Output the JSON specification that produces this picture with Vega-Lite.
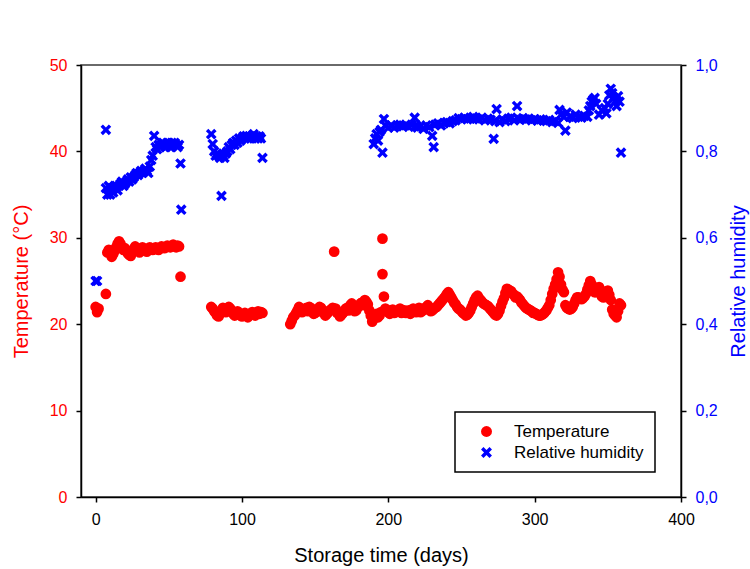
{
  "$schema": "https://vega.github.io/schema/vega-lite/v6.json",
  "width": 600,
  "height": 432,
  "autosize": {"type": "none"},
  "padding": {"left": 81, "top": 65, "right": 69, "bottom": 72},
  "background": "white",
  "config": {
    "font": "Liberation Sans",
    "view": {"stroke": "#3a3a3a", "strokeWidth": 1.5},
    "axis": {"grid": false, "domainColor": "black", "domainWidth": 1.5, "tickColor": "black", "tickWidth": 1.5, "tickSize": 5, "labelFontSize": 16, "titleFontSize": 20, "titleFontWeight": "normal", "labelPadding": 9, "labelFont": "Liberation Sans", "titleFont": "Liberation Sans", "labelFlush": false},
    "legend": {"orient": "none", "legendX": 374, "legendY": 347, "strokeColor": "black", "strokeWidth": 1.5, "fillColor": "white", "padding": 11, "symbolOffset": 12, "labelOffset": 19, "rowPadding": 3, "labelFontSize": 17, "labelFont": "Liberation Sans", "labelColor": "black", "symbolSize": 120, "symbolStrokeWidth": 0, "symbolOpacity": 1, "cornerRadius": 0}
  },
  "datasets": {
    "temp": [
      {"day":0,"t":22.0,"s":"Temperature"},{"day":1,"t":21.4,"s":"Temperature"},{"day":2,"t":21.8,"s":"Temperature"},{"day":7,"t":23.5,"s":"Temperature"},
      {"day":8,"t":28.3,"s":"Temperature"},{"day":9,"t":28.6,"s":"Temperature"},{"day":10,"t":28.2,"s":"Temperature"},{"day":11,"t":27.8,"s":"Temperature"},{"day":12,"t":28.1,"s":"Temperature"},{"day":13,"t":28.5,"s":"Temperature"},{"day":14,"t":28.9,"s":"Temperature"},{"day":15,"t":29.3,"s":"Temperature"},{"day":16,"t":29.6,"s":"Temperature"},{"day":17,"t":29.3,"s":"Temperature"},{"day":18,"t":28.9,"s":"Temperature"},{"day":19,"t":28.6,"s":"Temperature"},{"day":20,"t":28.8,"s":"Temperature"},{"day":21,"t":28.5,"s":"Temperature"},{"day":22,"t":28.2,"s":"Temperature"},{"day":23,"t":28.0,"s":"Temperature"},{"day":24,"t":27.9,"s":"Temperature"},{"day":25,"t":28.3,"s":"Temperature"},{"day":26,"t":28.7,"s":"Temperature"},{"day":27,"t":29.0,"s":"Temperature"},{"day":28,"t":28.8,"s":"Temperature"},{"day":29,"t":28.5,"s":"Temperature"},{"day":30,"t":28.3,"s":"Temperature"},{"day":31,"t":28.6,"s":"Temperature"},{"day":32,"t":28.9,"s":"Temperature"},{"day":33,"t":28.7,"s":"Temperature"},{"day":34,"t":28.5,"s":"Temperature"},{"day":35,"t":28.4,"s":"Temperature"},{"day":36,"t":28.6,"s":"Temperature"},{"day":37,"t":28.9,"s":"Temperature"},{"day":38,"t":28.8,"s":"Temperature"},{"day":39,"t":28.6,"s":"Temperature"},{"day":40,"t":28.7,"s":"Temperature"},{"day":41,"t":28.9,"s":"Temperature"},{"day":42,"t":28.8,"s":"Temperature"},{"day":43,"t":28.6,"s":"Temperature"},{"day":44,"t":28.8,"s":"Temperature"},{"day":45,"t":29.0,"s":"Temperature"},{"day":46,"t":28.9,"s":"Temperature"},{"day":47,"t":28.8,"s":"Temperature"},{"day":48,"t":28.9,"s":"Temperature"},{"day":49,"t":29.1,"s":"Temperature"},{"day":50,"t":29.0,"s":"Temperature"},{"day":51,"t":28.9,"s":"Temperature"},{"day":52,"t":29.1,"s":"Temperature"},{"day":53,"t":29.2,"s":"Temperature"},{"day":54,"t":29.0,"s":"Temperature"},{"day":55,"t":28.9,"s":"Temperature"},{"day":56,"t":29.1,"s":"Temperature"},{"day":57,"t":29.0,"s":"Temperature"},{"day":58,"t":25.5,"s":"Temperature"},
      {"day":79,"t":22.0,"s":"Temperature"},{"day":80,"t":21.8,"s":"Temperature"},{"day":81,"t":21.5,"s":"Temperature"},{"day":82,"t":21.3,"s":"Temperature"},{"day":83,"t":21.0,"s":"Temperature"},{"day":84,"t":20.9,"s":"Temperature"},{"day":85,"t":21.2,"s":"Temperature"},{"day":86,"t":21.6,"s":"Temperature"},{"day":87,"t":21.9,"s":"Temperature"},{"day":88,"t":21.7,"s":"Temperature"},{"day":89,"t":21.4,"s":"Temperature"},{"day":90,"t":21.6,"s":"Temperature"},{"day":91,"t":22.0,"s":"Temperature"},{"day":92,"t":21.8,"s":"Temperature"},{"day":93,"t":21.5,"s":"Temperature"},{"day":94,"t":21.2,"s":"Temperature"},{"day":95,"t":21.0,"s":"Temperature"},{"day":96,"t":21.3,"s":"Temperature"},{"day":97,"t":21.5,"s":"Temperature"},{"day":98,"t":21.2,"s":"Temperature"},{"day":99,"t":21.0,"s":"Temperature"},{"day":100,"t":20.9,"s":"Temperature"},{"day":101,"t":21.1,"s":"Temperature"},{"day":102,"t":21.3,"s":"Temperature"},{"day":103,"t":21.0,"s":"Temperature"},{"day":104,"t":20.8,"s":"Temperature"},{"day":105,"t":21.0,"s":"Temperature"},{"day":106,"t":21.2,"s":"Temperature"},{"day":107,"t":21.4,"s":"Temperature"},{"day":108,"t":21.2,"s":"Temperature"},{"day":109,"t":21.0,"s":"Temperature"},{"day":110,"t":21.3,"s":"Temperature"},{"day":111,"t":21.5,"s":"Temperature"},{"day":112,"t":21.2,"s":"Temperature"},{"day":113,"t":21.4,"s":"Temperature"},{"day":114,"t":21.3,"s":"Temperature"},
      {"day":133,"t":20.0,"s":"Temperature"},{"day":134,"t":20.4,"s":"Temperature"},{"day":135,"t":20.8,"s":"Temperature"},{"day":136,"t":21.0,"s":"Temperature"},{"day":137,"t":21.3,"s":"Temperature"},{"day":138,"t":21.6,"s":"Temperature"},{"day":139,"t":22.0,"s":"Temperature"},{"day":140,"t":21.8,"s":"Temperature"},{"day":141,"t":21.4,"s":"Temperature"},{"day":142,"t":21.5,"s":"Temperature"},{"day":143,"t":21.7,"s":"Temperature"},{"day":144,"t":21.9,"s":"Temperature"},{"day":145,"t":21.5,"s":"Temperature"},{"day":146,"t":22.0,"s":"Temperature"},{"day":147,"t":21.9,"s":"Temperature"},{"day":148,"t":21.6,"s":"Temperature"},{"day":149,"t":21.2,"s":"Temperature"},{"day":150,"t":21.3,"s":"Temperature"},{"day":151,"t":21.5,"s":"Temperature"},{"day":152,"t":21.7,"s":"Temperature"},{"day":153,"t":22.0,"s":"Temperature"},{"day":154,"t":21.9,"s":"Temperature"},{"day":155,"t":21.4,"s":"Temperature"},{"day":156,"t":21.5,"s":"Temperature"},{"day":157,"t":21.0,"s":"Temperature"},{"day":158,"t":21.2,"s":"Temperature"},{"day":159,"t":21.4,"s":"Temperature"},{"day":160,"t":21.6,"s":"Temperature"},{"day":161,"t":21.7,"s":"Temperature"},{"day":162,"t":21.9,"s":"Temperature"},{"day":163,"t":28.4,"s":"Temperature"},{"day":164,"t":21.8,"s":"Temperature"},{"day":165,"t":21.3,"s":"Temperature"},{"day":166,"t":21.4,"s":"Temperature"},{"day":167,"t":20.9,"s":"Temperature"},{"day":168,"t":21.1,"s":"Temperature"},{"day":169,"t":21.3,"s":"Temperature"},{"day":170,"t":21.5,"s":"Temperature"},{"day":171,"t":21.8,"s":"Temperature"},{"day":172,"t":21.9,"s":"Temperature"},{"day":173,"t":21.6,"s":"Temperature"},{"day":174,"t":22.2,"s":"Temperature"},{"day":175,"t":22.4,"s":"Temperature"},{"day":176,"t":22.0,"s":"Temperature"},{"day":177,"t":21.5,"s":"Temperature"},{"day":178,"t":21.6,"s":"Temperature"},{"day":179,"t":21.9,"s":"Temperature"},{"day":180,"t":22.1,"s":"Temperature"},{"day":181,"t":22.4,"s":"Temperature"},{"day":182,"t":22.5,"s":"Temperature"},{"day":183,"t":22.2,"s":"Temperature"},{"day":184,"t":22.8,"s":"Temperature"},{"day":185,"t":22.6,"s":"Temperature"},{"day":186,"t":22.3,"s":"Temperature"},{"day":187,"t":21.6,"s":"Temperature"},{"day":188,"t":21.0,"s":"Temperature"},{"day":189,"t":20.3,"s":"Temperature"},{"day":190,"t":20.6,"s":"Temperature"},{"day":191,"t":21.0,"s":"Temperature"},{"day":192,"t":21.2,"s":"Temperature"},{"day":193,"t":20.8,"s":"Temperature"},{"day":194,"t":21.0,"s":"Temperature"},{"day":195,"t":21.4,"s":"Temperature"},{"day":196,"t":29.9,"s":"Temperature"},{"day":196,"t":25.8,"s":"Temperature"},{"day":197,"t":23.2,"s":"Temperature"},{"day":198,"t":21.8,"s":"Temperature"},{"day":199,"t":21.5,"s":"Temperature"},{"day":200,"t":21.4,"s":"Temperature"},{"day":201,"t":21.2,"s":"Temperature"},{"day":202,"t":21.6,"s":"Temperature"},{"day":203,"t":21.7,"s":"Temperature"},{"day":204,"t":21.3,"s":"Temperature"},{"day":205,"t":21.4,"s":"Temperature"},{"day":206,"t":21.5,"s":"Temperature"},{"day":207,"t":21.6,"s":"Temperature"},{"day":208,"t":21.8,"s":"Temperature"},{"day":209,"t":21.3,"s":"Temperature"},{"day":210,"t":21.5,"s":"Temperature"},{"day":211,"t":21.6,"s":"Temperature"},{"day":212,"t":21.3,"s":"Temperature"},{"day":213,"t":21.5,"s":"Temperature"},{"day":214,"t":21.6,"s":"Temperature"},{"day":215,"t":21.2,"s":"Temperature"},{"day":216,"t":21.4,"s":"Temperature"},{"day":217,"t":21.8,"s":"Temperature"},{"day":218,"t":21.7,"s":"Temperature"},{"day":219,"t":21.4,"s":"Temperature"},{"day":220,"t":21.6,"s":"Temperature"},{"day":221,"t":21.9,"s":"Temperature"},{"day":222,"t":21.4,"s":"Temperature"},{"day":223,"t":21.5,"s":"Temperature"},{"day":224,"t":21.8,"s":"Temperature"},{"day":225,"t":21.7,"s":"Temperature"},{"day":226,"t":22.0,"s":"Temperature"},{"day":227,"t":22.2,"s":"Temperature"},{"day":228,"t":21.8,"s":"Temperature"},{"day":229,"t":21.5,"s":"Temperature"},{"day":230,"t":21.6,"s":"Temperature"},{"day":231,"t":21.8,"s":"Temperature"},{"day":232,"t":21.9,"s":"Temperature"},{"day":233,"t":22.0,"s":"Temperature"},{"day":234,"t":22.2,"s":"Temperature"},{"day":235,"t":22.4,"s":"Temperature"},{"day":236,"t":22.6,"s":"Temperature"},{"day":237,"t":22.8,"s":"Temperature"},{"day":238,"t":23.0,"s":"Temperature"},{"day":239,"t":23.2,"s":"Temperature"},{"day":240,"t":23.5,"s":"Temperature"},{"day":241,"t":23.7,"s":"Temperature"},{"day":242,"t":23.4,"s":"Temperature"},{"day":243,"t":23.1,"s":"Temperature"},{"day":244,"t":22.8,"s":"Temperature"},{"day":245,"t":22.5,"s":"Temperature"},{"day":246,"t":22.3,"s":"Temperature"},{"day":247,"t":22.0,"s":"Temperature"},{"day":248,"t":21.8,"s":"Temperature"},{"day":249,"t":21.7,"s":"Temperature"},{"day":250,"t":21.5,"s":"Temperature"},{"day":251,"t":21.3,"s":"Temperature"},{"day":252,"t":21.2,"s":"Temperature"},{"day":253,"t":21.0,"s":"Temperature"},{"day":254,"t":21.1,"s":"Temperature"},{"day":255,"t":21.3,"s":"Temperature"},{"day":256,"t":21.6,"s":"Temperature"},{"day":257,"t":22.0,"s":"Temperature"},{"day":258,"t":22.4,"s":"Temperature"},{"day":259,"t":22.8,"s":"Temperature"},{"day":260,"t":23.1,"s":"Temperature"},{"day":261,"t":23.3,"s":"Temperature"},{"day":262,"t":23.0,"s":"Temperature"},{"day":263,"t":22.8,"s":"Temperature"},{"day":264,"t":22.6,"s":"Temperature"},{"day":265,"t":22.4,"s":"Temperature"},{"day":266,"t":22.3,"s":"Temperature"},{"day":267,"t":22.2,"s":"Temperature"},{"day":268,"t":22.1,"s":"Temperature"},{"day":269,"t":21.9,"s":"Temperature"},{"day":270,"t":21.7,"s":"Temperature"},{"day":271,"t":21.5,"s":"Temperature"},{"day":272,"t":21.3,"s":"Temperature"},{"day":273,"t":21.1,"s":"Temperature"},{"day":274,"t":21.0,"s":"Temperature"},{"day":275,"t":21.2,"s":"Temperature"},{"day":276,"t":21.6,"s":"Temperature"},{"day":277,"t":22.1,"s":"Temperature"},{"day":278,"t":22.6,"s":"Temperature"},{"day":279,"t":23.0,"s":"Temperature"},{"day":280,"t":23.6,"s":"Temperature"},{"day":281,"t":24.1,"s":"Temperature"},{"day":282,"t":24.0,"s":"Temperature"},{"day":283,"t":23.9,"s":"Temperature"},{"day":284,"t":23.8,"s":"Temperature"},{"day":285,"t":23.5,"s":"Temperature"},{"day":286,"t":23.4,"s":"Temperature"},{"day":287,"t":23.1,"s":"Temperature"},{"day":288,"t":23.2,"s":"Temperature"},{"day":289,"t":23.0,"s":"Temperature"},{"day":290,"t":22.8,"s":"Temperature"},{"day":291,"t":22.5,"s":"Temperature"},{"day":292,"t":22.3,"s":"Temperature"},{"day":293,"t":22.1,"s":"Temperature"},{"day":294,"t":21.9,"s":"Temperature"},{"day":295,"t":21.8,"s":"Temperature"},{"day":296,"t":21.7,"s":"Temperature"},{"day":297,"t":21.6,"s":"Temperature"},{"day":298,"t":21.5,"s":"Temperature"},{"day":299,"t":21.3,"s":"Temperature"},{"day":300,"t":21.3,"s":"Temperature"},{"day":301,"t":21.2,"s":"Temperature"},{"day":302,"t":21.1,"s":"Temperature"},{"day":303,"t":21.0,"s":"Temperature"},{"day":304,"t":21.0,"s":"Temperature"},{"day":305,"t":21.1,"s":"Temperature"},{"day":306,"t":21.2,"s":"Temperature"},{"day":307,"t":21.4,"s":"Temperature"},{"day":308,"t":21.6,"s":"Temperature"},{"day":309,"t":21.9,"s":"Temperature"},{"day":310,"t":22.2,"s":"Temperature"},{"day":311,"t":22.8,"s":"Temperature"},{"day":312,"t":23.5,"s":"Temperature"},{"day":313,"t":24.1,"s":"Temperature"},{"day":314,"t":24.6,"s":"Temperature"},{"day":315,"t":25.2,"s":"Temperature"},{"day":316,"t":26.0,"s":"Temperature"},{"day":317,"t":25.5,"s":"Temperature"},{"day":318,"t":24.6,"s":"Temperature"},{"day":319,"t":24.0,"s":"Temperature"},{"day":320,"t":23.7,"s":"Temperature"},{"day":321,"t":22.2,"s":"Temperature"},{"day":322,"t":21.9,"s":"Temperature"},{"day":323,"t":21.8,"s":"Temperature"},{"day":324,"t":21.7,"s":"Temperature"},{"day":325,"t":21.8,"s":"Temperature"},{"day":326,"t":22.0,"s":"Temperature"},{"day":327,"t":22.4,"s":"Temperature"},{"day":328,"t":22.8,"s":"Temperature"},{"day":329,"t":23.1,"s":"Temperature"},{"day":330,"t":23.1,"s":"Temperature"},{"day":331,"t":23.0,"s":"Temperature"},{"day":332,"t":22.9,"s":"Temperature"},{"day":333,"t":23.0,"s":"Temperature"},{"day":334,"t":23.2,"s":"Temperature"},{"day":335,"t":23.5,"s":"Temperature"},{"day":336,"t":24.0,"s":"Temperature"},{"day":337,"t":24.5,"s":"Temperature"},{"day":338,"t":25.0,"s":"Temperature"},{"day":339,"t":24.6,"s":"Temperature"},{"day":340,"t":24.2,"s":"Temperature"},{"day":341,"t":23.7,"s":"Temperature"},{"day":342,"t":23.7,"s":"Temperature"},{"day":343,"t":24.0,"s":"Temperature"},{"day":344,"t":24.3,"s":"Temperature"},{"day":345,"t":23.6,"s":"Temperature"},{"day":346,"t":23.2,"s":"Temperature"},{"day":347,"t":23.1,"s":"Temperature"},{"day":348,"t":23.5,"s":"Temperature"},{"day":349,"t":23.8,"s":"Temperature"},{"day":350,"t":23.9,"s":"Temperature"},{"day":351,"t":23.4,"s":"Temperature"},{"day":352,"t":22.8,"s":"Temperature"},{"day":353,"t":21.7,"s":"Temperature"},{"day":354,"t":21.2,"s":"Temperature"},{"day":355,"t":21.0,"s":"Temperature"},{"day":356,"t":20.8,"s":"Temperature"},{"day":357,"t":21.5,"s":"Temperature"},{"day":358,"t":22.4,"s":"Temperature"},{"day":359,"t":22.2,"s":"Temperature"}
    ],
    "rh": [
      {"day":0,"rh":0.50,"s":"Relative humidity"},{"day":1,"rh":0.50,"s":"Relative humidity"},{"day":7,"rh":0.85,"s":"Relative humidity"},
      {"day":7,"rh":0.715,"s":"Relative humidity"},{"day":8,"rh":0.70,"s":"Relative humidity"},{"day":9,"rh":0.72,"s":"Relative humidity"},{"day":10,"rh":0.70,"s":"Relative humidity"},{"day":11,"rh":0.71,"s":"Relative humidity"},{"day":12,"rh":0.705,"s":"Relative humidity"},{"day":13,"rh":0.715,"s":"Relative humidity"},{"day":14,"rh":0.72,"s":"Relative humidity"},{"day":15,"rh":0.71,"s":"Relative humidity"},{"day":16,"rh":0.72,"s":"Relative humidity"},{"day":17,"rh":0.725,"s":"Relative humidity"},{"day":18,"rh":0.73,"s":"Relative humidity"},{"day":19,"rh":0.72,"s":"Relative humidity"},{"day":20,"rh":0.725,"s":"Relative humidity"},{"day":21,"rh":0.73,"s":"Relative humidity"},{"day":22,"rh":0.735,"s":"Relative humidity"},{"day":23,"rh":0.73,"s":"Relative humidity"},{"day":24,"rh":0.74,"s":"Relative humidity"},{"day":25,"rh":0.735,"s":"Relative humidity"},{"day":26,"rh":0.74,"s":"Relative humidity"},{"day":27,"rh":0.745,"s":"Relative humidity"},{"day":28,"rh":0.75,"s":"Relative humidity"},{"day":29,"rh":0.745,"s":"Relative humidity"},{"day":30,"rh":0.75,"s":"Relative humidity"},{"day":31,"rh":0.755,"s":"Relative humidity"},{"day":32,"rh":0.75,"s":"Relative humidity"},{"day":33,"rh":0.755,"s":"Relative humidity"},{"day":34,"rh":0.76,"s":"Relative humidity"},{"day":35,"rh":0.755,"s":"Relative humidity"},{"day":36,"rh":0.75,"s":"Relative humidity"},{"day":37,"rh":0.765,"s":"Relative humidity"},{"day":38,"rh":0.78,"s":"Relative humidity"},{"day":39,"rh":0.79,"s":"Relative humidity"},{"day":40,"rh":0.836,"s":"Relative humidity"},{"day":41,"rh":0.81,"s":"Relative humidity"},{"day":42,"rh":0.805,"s":"Relative humidity"},{"day":43,"rh":0.815,"s":"Relative humidity"},{"day":44,"rh":0.81,"s":"Relative humidity"},{"day":45,"rh":0.815,"s":"Relative humidity"},{"day":46,"rh":0.82,"s":"Relative humidity"},{"day":47,"rh":0.815,"s":"Relative humidity"},{"day":48,"rh":0.81,"s":"Relative humidity"},{"day":49,"rh":0.82,"s":"Relative humidity"},{"day":50,"rh":0.815,"s":"Relative humidity"},{"day":51,"rh":0.81,"s":"Relative humidity"},{"day":52,"rh":0.82,"s":"Relative humidity"},{"day":53,"rh":0.815,"s":"Relative humidity"},{"day":54,"rh":0.82,"s":"Relative humidity"},{"day":55,"rh":0.815,"s":"Relative humidity"},{"day":56,"rh":0.81,"s":"Relative humidity"},{"day":57,"rh":0.815,"s":"Relative humidity"},{"day":58,"rh":0.772,"s":"Relative humidity"},{"day":58.5,"rh":0.665,"s":"Relative humidity"},
      {"day":79,"rh":0.84,"s":"Relative humidity"},{"day":80,"rh":0.817,"s":"Relative humidity"},{"day":81,"rh":0.80,"s":"Relative humidity"},{"day":82,"rh":0.79,"s":"Relative humidity"},{"day":83,"rh":0.795,"s":"Relative humidity"},{"day":84,"rh":0.79,"s":"Relative humidity"},{"day":85,"rh":0.785,"s":"Relative humidity"},{"day":86,"rh":0.697,"s":"Relative humidity"},{"day":87,"rh":0.79,"s":"Relative humidity"},{"day":88,"rh":0.785,"s":"Relative humidity"},{"day":89,"rh":0.795,"s":"Relative humidity"},{"day":90,"rh":0.80,"s":"Relative humidity"},{"day":91,"rh":0.81,"s":"Relative humidity"},{"day":92,"rh":0.805,"s":"Relative humidity"},{"day":93,"rh":0.815,"s":"Relative humidity"},{"day":94,"rh":0.82,"s":"Relative humidity"},{"day":95,"rh":0.815,"s":"Relative humidity"},{"day":96,"rh":0.825,"s":"Relative humidity"},{"day":97,"rh":0.82,"s":"Relative humidity"},{"day":98,"rh":0.83,"s":"Relative humidity"},{"day":99,"rh":0.825,"s":"Relative humidity"},{"day":100,"rh":0.83,"s":"Relative humidity"},{"day":101,"rh":0.835,"s":"Relative humidity"},{"day":102,"rh":0.83,"s":"Relative humidity"},{"day":103,"rh":0.836,"s":"Relative humidity"},{"day":104,"rh":0.83,"s":"Relative humidity"},{"day":105,"rh":0.835,"s":"Relative humidity"},{"day":106,"rh":0.83,"s":"Relative humidity"},{"day":107,"rh":0.836,"s":"Relative humidity"},{"day":108,"rh":0.84,"s":"Relative humidity"},{"day":109,"rh":0.83,"s":"Relative humidity"},{"day":110,"rh":0.835,"s":"Relative humidity"},{"day":111,"rh":0.83,"s":"Relative humidity"},{"day":112,"rh":0.835,"s":"Relative humidity"},{"day":113,"rh":0.83,"s":"Relative humidity"},{"day":114,"rh":0.785,"s":"Relative humidity"},
      {"day":190,"rh":0.817,"s":"Relative humidity"},{"day":191,"rh":0.83,"s":"Relative humidity"},{"day":192,"rh":0.84,"s":"Relative humidity"},{"day":193,"rh":0.825,"s":"Relative humidity"},{"day":194,"rh":0.845,"s":"Relative humidity"},{"day":195,"rh":0.85,"s":"Relative humidity"},{"day":196,"rh":0.797,"s":"Relative humidity"},{"day":197,"rh":0.875,"s":"Relative humidity"},{"day":198,"rh":0.86,"s":"Relative humidity"},{"day":200,"rh":0.855,"s":"Relative humidity"},{"day":202,"rh":0.86,"s":"Relative humidity"},{"day":204,"rh":0.855,"s":"Relative humidity"},{"day":206,"rh":0.86,"s":"Relative humidity"},{"day":208,"rh":0.862,"s":"Relative humidity"},{"day":210,"rh":0.858,"s":"Relative humidity"},{"day":212,"rh":0.86,"s":"Relative humidity"},{"day":214,"rh":0.857,"s":"Relative humidity"},{"day":216,"rh":0.862,"s":"Relative humidity"},{"day":218,"rh":0.878,"s":"Relative humidity"},{"day":219,"rh":0.86,"s":"Relative humidity"},{"day":220,"rh":0.855,"s":"Relative humidity"},{"day":222,"rh":0.858,"s":"Relative humidity"},{"day":224,"rh":0.852,"s":"Relative humidity"},{"day":226,"rh":0.86,"s":"Relative humidity"},{"day":228,"rh":0.856,"s":"Relative humidity"},{"day":230,"rh":0.836,"s":"Relative humidity"},{"day":231,"rh":0.81,"s":"Relative humidity"},{"day":232,"rh":0.862,"s":"Relative humidity"},{"day":234,"rh":0.865,"s":"Relative humidity"},{"day":236,"rh":0.86,"s":"Relative humidity"},{"day":238,"rh":0.866,"s":"Relative humidity"},{"day":240,"rh":0.868,"s":"Relative humidity"},{"day":242,"rh":0.865,"s":"Relative humidity"},{"day":244,"rh":0.87,"s":"Relative humidity"},{"day":246,"rh":0.872,"s":"Relative humidity"},{"day":248,"rh":0.877,"s":"Relative humidity"},{"day":250,"rh":0.875,"s":"Relative humidity"},{"day":252,"rh":0.878,"s":"Relative humidity"},{"day":254,"rh":0.874,"s":"Relative humidity"},{"day":256,"rh":0.876,"s":"Relative humidity"},{"day":258,"rh":0.88,"s":"Relative humidity"},{"day":260,"rh":0.876,"s":"Relative humidity"},{"day":262,"rh":0.874,"s":"Relative humidity"},{"day":264,"rh":0.878,"s":"Relative humidity"},{"day":266,"rh":0.872,"s":"Relative humidity"},{"day":268,"rh":0.876,"s":"Relative humidity"},{"day":270,"rh":0.873,"s":"Relative humidity"},{"day":272,"rh":0.829,"s":"Relative humidity"},{"day":273,"rh":0.87,"s":"Relative humidity"},{"day":274,"rh":0.898,"s":"Relative humidity"},{"day":276,"rh":0.868,"s":"Relative humidity"},{"day":278,"rh":0.874,"s":"Relative humidity"},{"day":280,"rh":0.87,"s":"Relative humidity"},{"day":282,"rh":0.876,"s":"Relative humidity"},{"day":284,"rh":0.878,"s":"Relative humidity"},{"day":286,"rh":0.872,"s":"Relative humidity"},{"day":288,"rh":0.905,"s":"Relative humidity"},{"day":289,"rh":0.875,"s":"Relative humidity"},{"day":290,"rh":0.873,"s":"Relative humidity"},{"day":292,"rh":0.877,"s":"Relative humidity"},{"day":294,"rh":0.874,"s":"Relative humidity"},{"day":296,"rh":0.876,"s":"Relative humidity"},{"day":298,"rh":0.872,"s":"Relative humidity"},{"day":300,"rh":0.875,"s":"Relative humidity"},{"day":302,"rh":0.871,"s":"Relative humidity"},{"day":304,"rh":0.874,"s":"Relative humidity"},{"day":306,"rh":0.872,"s":"Relative humidity"},{"day":308,"rh":0.87,"s":"Relative humidity"},{"day":310,"rh":0.873,"s":"Relative humidity"},{"day":312,"rh":0.868,"s":"Relative humidity"},{"day":314,"rh":0.87,"s":"Relative humidity"},{"day":316,"rh":0.866,"s":"Relative humidity"},{"day":317,"rh":0.896,"s":"Relative humidity"},{"day":318,"rh":0.885,"s":"Relative humidity"},{"day":320,"rh":0.88,"s":"Relative humidity"},{"day":321,"rh":0.848,"s":"Relative humidity"},{"day":322,"rh":0.89,"s":"Relative humidity"},{"day":324,"rh":0.88,"s":"Relative humidity"},{"day":326,"rh":0.877,"s":"Relative humidity"},{"day":328,"rh":0.885,"s":"Relative humidity"},{"day":330,"rh":0.88,"s":"Relative humidity"},{"day":332,"rh":0.878,"s":"Relative humidity"},{"day":334,"rh":0.882,"s":"Relative humidity"},{"day":336,"rh":0.88,"s":"Relative humidity"},{"day":337,"rh":0.895,"s":"Relative humidity"},{"day":338,"rh":0.905,"s":"Relative humidity"},{"day":339,"rh":0.915,"s":"Relative humidity"},{"day":340,"rh":0.92,"s":"Relative humidity"},{"day":341,"rh":0.924,"s":"Relative humidity"},{"day":342,"rh":0.91,"s":"Relative humidity"},{"day":344,"rh":0.885,"s":"Relative humidity"},{"day":346,"rh":0.895,"s":"Relative humidity"},{"day":348,"rh":0.9,"s":"Relative humidity"},{"day":349,"rh":0.888,"s":"Relative humidity"},{"day":350,"rh":0.91,"s":"Relative humidity"},{"day":351,"rh":0.93,"s":"Relative humidity"},{"day":352,"rh":0.945,"s":"Relative humidity"},{"day":353,"rh":0.935,"s":"Relative humidity"},{"day":354,"rh":0.925,"s":"Relative humidity"},{"day":355,"rh":0.915,"s":"Relative humidity"},{"day":356,"rh":0.905,"s":"Relative humidity"},{"day":357,"rh":0.928,"s":"Relative humidity"},{"day":358,"rh":0.915,"s":"Relative humidity"},{"day":359,"rh":0.797,"s":"Relative humidity"}
    ]
  },
  "layer": [
    {
      "data": {"name": "temp"},
      "mark": {"type": "point", "filled": true, "size": 115, "opacity": 1},
      "encoding": {
        "x": {"field": "day", "type": "quantitative", "scale": {"domain": [-10, 400], "nice": false, "zero": false}, "axis": {"title": "Storage time (days)", "values": [0, 100, 200, 300, 400], "titlePadding": 18, "labelColor": "black", "titleColor": "black"}},
        "y": {"field": "t", "type": "quantitative", "scale": {"domain": [0, 50], "nice": false}, "axis": {"orient": "left", "title": "Temperature (°C)", "values": [0, 10, 20, 30, 40, 50], "labelColor": "#ff0000", "titleColor": "#ff0000", "titlePadding": 18}},
        "color": {"field": "s", "type": "nominal", "scale": {"domain": ["Temperature", "Relative humidity"], "range": ["#ff0000", "#0000ff"]}, "legend": {"title": null}},
        "shape": {"field": "s", "type": "nominal", "scale": {"domain": ["Temperature", "Relative humidity"], "range": ["circle", "M -1 -0.55 L -0.55 -1 L 0 -0.45 L 0.55 -1 L 1 -0.55 L 0.45 0 L 1 0.55 L 0.55 1 L 0 0.45 L -0.55 1 L -1 0.55 L -0.45 0 Z"]}, "legend": {"title": null}}
      }
    },
    {
      "data": {"name": "rh"},
      "mark": {"type": "point", "filled": true, "size": 115, "opacity": 1},
      "encoding": {
        "x": {"field": "day", "type": "quantitative"},
        "y": {"field": "rh", "type": "quantitative", "scale": {"domain": [0, 1], "nice": false}, "axis": {"orient": "right", "title": "Relative humidity", "values": [0, 0.2, 0.4, 0.6, 0.8, 1.0], "labelExpr": "replace(format(datum.value, '.1f'), '.', ',')", "labelColor": "#0000ff", "titleColor": "#0000ff", "titleAngle": 270, "titlePadding": 31}},
        "color": {"field": "s", "type": "nominal"},
        "shape": {"field": "s", "type": "nominal"}
      }
    }
  ],
  "resolve": {"scale": {"y": "independent"}, "axis": {"y": "independent"}}
}
